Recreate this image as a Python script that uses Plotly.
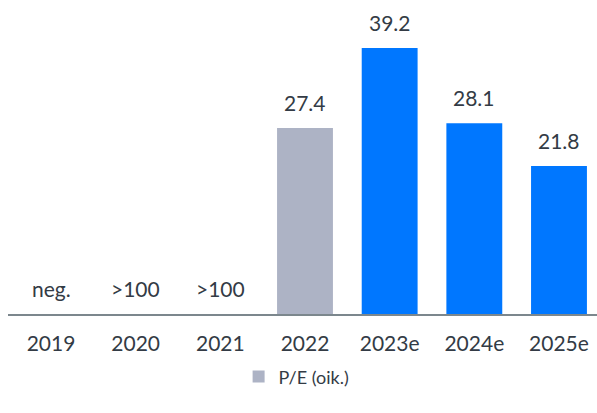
import plotly.graph_objects as go

# P/E by year; first three years have no meaningful multiple
years = ["2019", "2020", "2021", "2022", "2023e", "2024e", "2025e"]
pe_values = [None, None, None, 27.4, 39.2, 28.1, 21.8]
pe_labels = ["neg.", ">100", ">100", "27.4", "39.2", "28.1", "21.8"]
is_estimate = [False, False, False, False, True, True, True]

ACTUAL_COLOR = "#adb3c5"
ESTIMATE_COLOR = "#0077ff"
TEXT_COLOR = "#333b45"
FONT = "Lato, 'Open Sans', sans-serif"

act_x = [y for y, e in zip(years, is_estimate) if not e]
act_v = [v for v, e in zip(pe_values, is_estimate) if not e]
est_x = [y for y, e in zip(years, is_estimate) if e]
est_v = [v for v, e in zip(pe_values, is_estimate) if e]

fig = go.Figure()
fig.add_trace(go.Bar(
    x=act_x, y=act_v, name="P/E (oik.)",
    marker=dict(color=ACTUAL_COLOR, line=dict(width=0)),
    width=0.66, hoverinfo="skip",
))
fig.add_trace(go.Bar(
    x=est_x, y=est_v, name="P/E (oik.) e",
    marker=dict(color=ESTIMATE_COLOR, line=dict(width=0)),
    width=0.66, showlegend=False, hoverinfo="skip",
))

# value labels above each bar (or above the baseline where no bar is drawn);
# positioned by category index so numeric-looking year strings stay categories
for i, (v, lab) in enumerate(zip(pe_values, pe_labels)):
    fig.add_annotation(
        x=i, y=v if v is not None else 0, text=lab,
        showarrow=False, yanchor="bottom", yshift=11,
        font=dict(family=FONT, size=21, color=TEXT_COLOR),
    )

fig.update_layout(
    width=597, height=413,
    margin=dict(l=8, r=0, t=0, b=99),
    paper_bgcolor="white", plot_bgcolor="white",
    barmode="overlay",
    font=dict(family=FONT, size=21, color=TEXT_COLOR),
    xaxis=dict(
        type="category", categoryorder="array", categoryarray=years,
        range=[-0.508, 6.449],
        showline=True, linecolor="#7c878d", linewidth=2,
        ticks="outside", ticklen=10, tickcolor="rgba(0,0,0,0)",
        tickfont=dict(family=FONT, size=21, color=TEXT_COLOR),
        showgrid=False, zeroline=False,
    ),
    yaxis=dict(
        range=[0, 46.27], visible=False, showgrid=False, zeroline=False,
    ),
    legend=dict(
        orientation="h", x=0.49, xanchor="center", y=-0.2, yanchor="middle",
        font=dict(family=FONT, size=18, color=TEXT_COLOR),
        itemwidth=30,
    ),
    showlegend=True,
)

fig.write_html("out.html")
